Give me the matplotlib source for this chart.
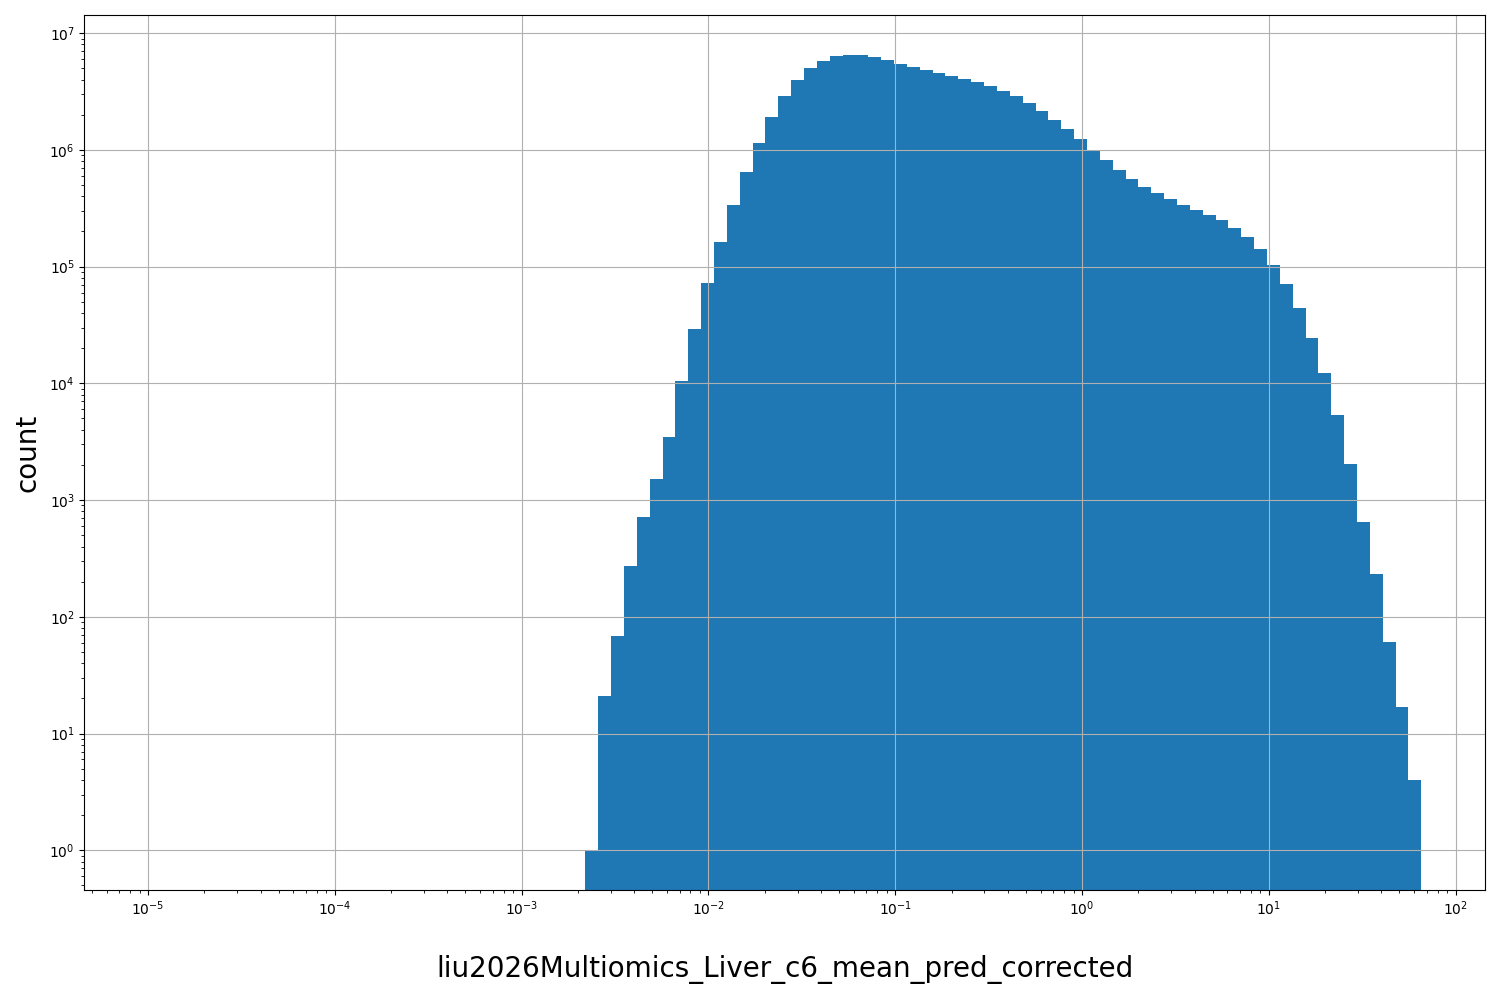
import numpy as np
import matplotlib
matplotlib.use("Agg")
import matplotlib.pyplot as plt

# Histogram bin edges: 99 log-spaced bins from 1e-5 to ~65.5
edge_lo = 1e-5
edge_hi = 65.5
n_edges = 100
first_nonzero_bin = 34

# Counts of the non-empty bins
counts_nonzero = [
    1, 21, 69, 273, 718, 1520, 3480, 10500, 29300, 72300,
    163000, 339000, 650000, 1.15e6, 1.93e6, 2.91e6, 3.99e6, 5.05e6, 5.80e6, 6.40e6,
    6.53e6, 6.53e6, 6.27e6, 5.93e6, 5.48e6, 5.17e6, 4.87e6, 4.59e6, 4.33e6, 4.08e6,
    3.84e6, 3.55e6, 3.21e6, 2.91e6, 2.54e6, 2.17e6, 1.82e6, 1.52e6, 1.25e6, 985000,
    823000, 676000, 566000, 483000, 430000, 382000, 339000, 307000, 278000, 252000,
    215000, 180000, 142000, 104000, 71300, 44400, 24500, 12300, 5370, 2040,
    650, 233, 61, 17, 4,
]

xlabel = "liu2026Multiomics_Liver_c6_mean_pred_corrected"
ylabel = "count"

edges = np.logspace(np.log10(edge_lo), np.log10(edge_hi), n_edges)
counts = np.zeros(n_edges - 1)
counts[first_nonzero_bin:first_nonzero_bin + len(counts_nonzero)] = counts_nonzero
centers = np.sqrt(edges[:-1] * edges[1:])

fig = plt.figure(figsize=(15, 10), dpi=100)
ax = fig.add_axes([0.0563, 0.11, 0.9337, 0.875])
ax.hist(centers, bins=edges, weights=counts, log=True, color="#1f77b4")
ax.set_xscale("log")
ax.grid(True)

# limits with 5% log margins
lx0, lx1 = np.log10(edges[0]), np.log10(edges[-1])
mx = 0.05 * (lx1 - lx0)
ax.set_xlim(10 ** (lx0 - mx), 10 ** (lx1 + mx))
nz = counts[counts > 0]
ly0, ly1 = np.log10(nz.min()), np.log10(nz.max())
my = 0.05 * (ly1 - ly0)
ax.set_ylim(10 ** (ly0 - my), 10 ** (ly1 + my))

ax.set_xlabel(xlabel, fontsize=20, labelpad=26.5)
ax.set_ylabel(ylabel, fontsize=20, labelpad=6)

fig.savefig("out.png", dpi=100)
